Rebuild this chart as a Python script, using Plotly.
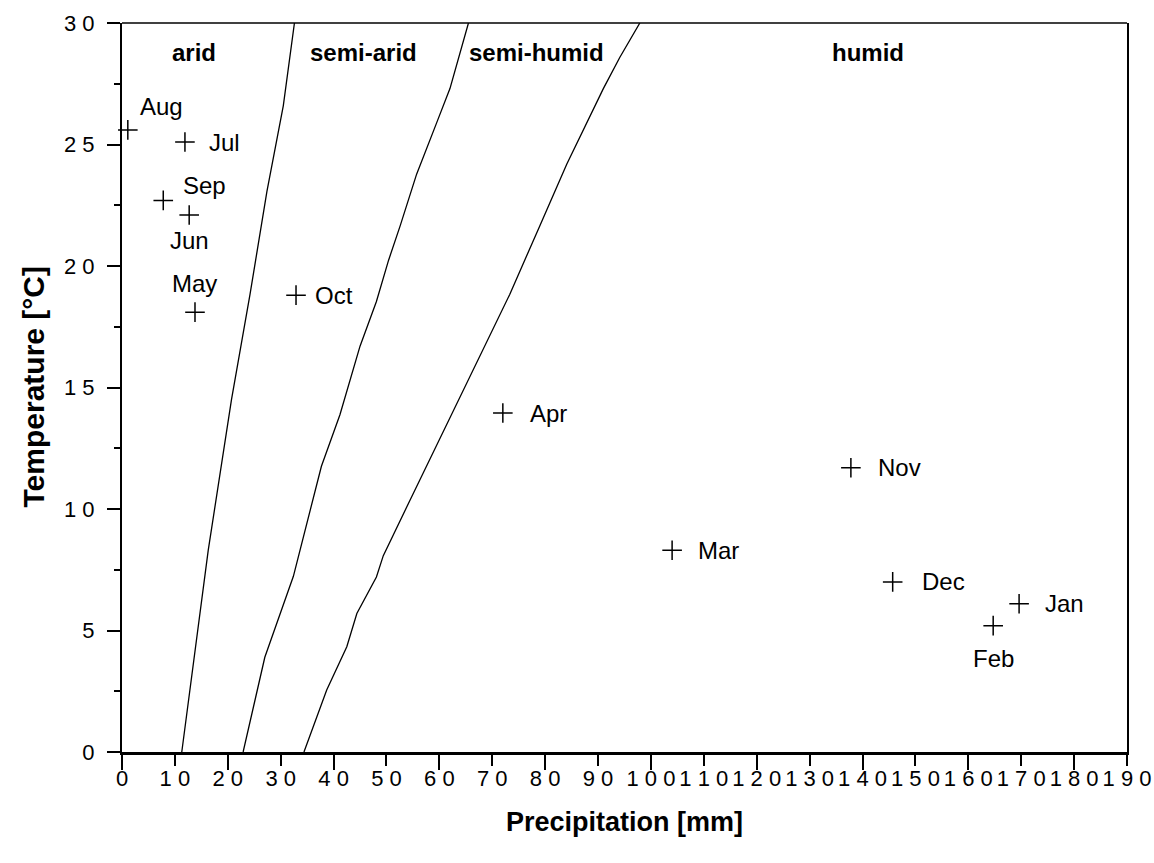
import plotly.graph_objects as go

# ---------------- data ----------------
months = ["Jan", "Feb", "Mar", "Apr", "May", "Jun", "Jul", "Aug", "Sep", "Oct", "Nov", "Dec"]
precip = [169.6, 164.7, 104.0, 72.0, 13.8, 12.7, 11.9, 1.1, 7.8, 32.9, 137.8, 145.7]
temp = [6.1, 5.2, 8.3, 13.95, 18.1, 22.1, 25.1, 25.6, 22.7, 18.8, 11.7, 7.0]

# climate-zone boundary curves (precipitation vs temperature)
b1_temp = [0, 8.3, 14.5, 18.83, 23.07, 26.6, 30]
b1_precip = [11.3, 16.3, 20.7, 24.2, 27.4, 30.5, 32.6]
b2_temp = [0, 3.9, 7.23, 11.76, 13.88, 16.7, 18.54, 20.24, 21.66, 23.78, 25.9, 27.3, 30]
b2_precip = [22.9, 27.0, 32.4, 37.7, 41.2, 45.0, 48.1, 50.4, 52.6, 55.7, 59.5, 62.0, 65.5]
b3_temp = [0, 2.55, 4.33, 5.7, 7.2, 8.08, 10.34, 13.17, 16.0, 18.83, 21.66, 24.2, 27.3, 28.58, 30]
b3_precip = [34.4, 38.7, 42.5, 44.4, 48.1, 49.4, 54.4, 60.7, 67.0, 73.3, 79.0, 84.1, 91.0, 94.1, 97.9]

zone_names = ["arid", "semi-arid", "semi-humid", "humid"]
zone_label_x = [13.6, 45.6, 78.3, 141.0]

x_tick_vals = list(range(0, 191, 10))
x_tick_labels = ["0", "1 0", "2 0", "3 0", "4 0", "5 0", "6 0", "7 0", "8 0", "9 0",
                 "1 0 0", "1 1 0", "1 2 0", "1 3 0", "1 4 0", "1 5 0", "1 6 0", "1 7 0",
                 "1 8 0", "1 9 0"]
y_tick_vals = [0, 5, 10, 15, 20, 25, 30]
y_tick_labels = ["0", "5", "1 0", "1 5", "2 0", "2 5", "3 0"]

# label placement (pixels): (xanchor, xshift, yshift)
label_pos = {
    "Jan": ("left", 24, 0), "Feb": ("center", 0, -33), "Mar": ("left", 24, 0),
    "Apr": ("left", 25, 0), "May": ("center", 0, 29), "Jun": ("center", 0, -26),
    "Jul": ("left", 22, 0), "Aug": ("center", 34, 23), "Sep": ("center", 41, 15),
    "Oct": ("left", 17, 0), "Nov": ("left", 25, 0), "Dec": ("left", 27, 0),
}

FONT = "Liberation Sans, Arial, sans-serif"

fig = go.Figure()

for bx, by in [(b1_precip, b1_temp), (b2_precip, b2_temp), (b3_precip, b3_temp)]:
    fig.add_trace(go.Scatter(x=bx, y=by, mode="lines",
                             line=dict(color="black", width=1.3),
                             hoverinfo="skip", showlegend=False))

fig.add_trace(go.Scatter(x=precip, y=temp, mode="markers",
                         marker=dict(symbol="cross-thin", size=14, color="black",
                                     line=dict(color="black", width=1.5)),
                         cliponaxis=False, showlegend=False))

# helper trace for the secondary (long-tick) x axis
fig.add_trace(go.Scatter(x=[None], y=[None], xaxis="x2", mode="markers",
                         showlegend=False, hoverinfo="skip"))

for m, px, t in zip(months, precip, temp):
    xa, xs, ys = label_pos[m]
    fig.add_annotation(x=px, y=t, text=m, showarrow=False, xanchor=xa,
                       yanchor="middle", xshift=xs, yshift=ys,
                       font=dict(family=FONT, size=24, color="black"))

for name, zx in zip(zone_names, zone_label_x):
    fig.add_annotation(x=zx, y=1, yref="paper", text=f"<b>{name}</b>", showarrow=False,
                       xanchor="center", yanchor="middle", yshift=-29,
                       font=dict(family=FONT, size=24, color="black"))

fig.add_annotation(x=0.5, y=0, xref="paper", yref="paper", text="<b>Precipitation [mm]</b>",
                   showarrow=False, xanchor="center", yanchor="middle", yshift=-70,
                   font=dict(family=FONT, size=27, color="black"))
fig.add_annotation(x=0, y=0.5, xref="paper", yref="paper", text="<b>Temperature [°C]</b>",
                   showarrow=False, xanchor="center", yanchor="middle", xshift=-89,
                   textangle=-90, font=dict(family=FONT, size=30, color="black"))

# top border
fig.add_shape(type="line", xref="paper", yref="paper", x0=0, x1=1, y0=1, y1=1,
              line=dict(color="black", width=1.5))

TICKFONT = dict(family=FONT, size=22, color="black")

fig.update_layout(
    width=1154, height=863,
    margin=dict(l=122, r=27, t=23, b=111, autoexpand=False),
    paper_bgcolor="white", plot_bgcolor="white",
    showlegend=False,
    xaxis=dict(range=[0, 190], tickmode="array", tickvals=x_tick_vals, ticktext=x_tick_labels,
               ticks="outside", ticklen=11, tickwidth=1.5, tickcolor="black",
               showline=True, linewidth=3, linecolor="black", showgrid=False, zeroline=False,
               tickfont=TICKFONT, automargin=False, ticklabelstandoff=-6),
    xaxis2=dict(range=[0, 190], overlaying="x", anchor="y", side="bottom", matches="x",
                tickmode="linear", tick0=0, dtick=20, ticks="outside", ticklen=17,
                tickwidth=1.5, tickcolor="black", showticklabels=False,
                showline=False, showgrid=False, zeroline=False, automargin=False),
    yaxis=dict(range=[0, 30], tickmode="array", tickvals=y_tick_vals, ticktext=y_tick_labels,
               ticks="outside", ticklen=13, tickwidth=1.5, tickcolor="black",
               minor=dict(dtick=2.5, tick0=0, ticks="outside", ticklen=6, tickwidth=1.5,
                          tickcolor="black"),
               showline=True, linewidth=2, linecolor="black", mirror=True,
               showgrid=False, zeroline=False, ticklabelstandoff=8,
               tickfont=TICKFONT, automargin=False),
)

fig.write_html("out.html")
